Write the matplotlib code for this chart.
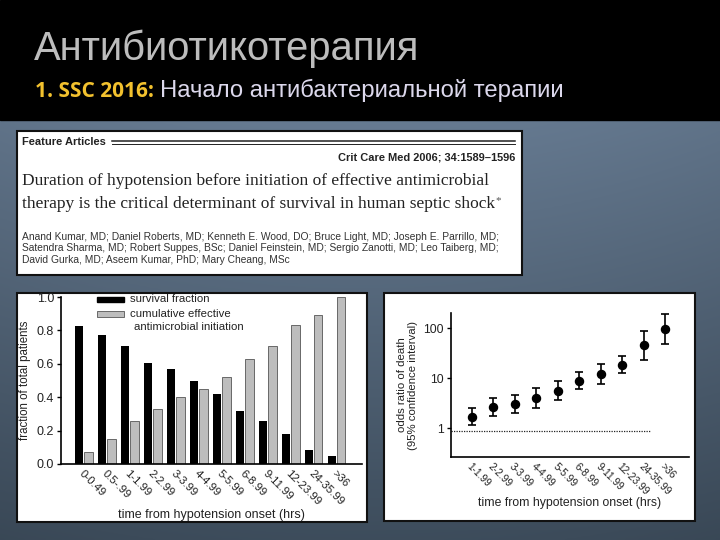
import numpy as np
import matplotlib.pyplot as plt
from matplotlib.patches import Rectangle
from matplotlib.ticker import NullLocator

W, H = 720, 540

# left chart: survival vs cumulative effective antimicrobial initiation
groups_left = ["0-0.49", "0.5-.99", "1-1.99", "2-2.99", "3-3.99", "4-4.99",
               "5-5.99", "6-8.99", "9-11.99", "12-23.99", "24-35.99", ">36"]
survival = [0.825, 0.77, 0.705, 0.605, 0.57, 0.50, 0.42, 0.315, 0.255, 0.18, 0.085, 0.045]
cumulative = [0.07, 0.15, 0.255, 0.33, 0.40, 0.45, 0.52, 0.63, 0.705, 0.835, 0.895, 1.0]

# right chart: odds ratio of death (95% CI)
groups_right = ["1-1.99", "2-2.99", "3-3.99", "4-4.99", "5-5.99",
                "6-8.99", "9-11.99", "12-23.99", "24-35.99", ">36"]
odds = [1.73, 2.69, 3.14, 4.13, 5.7, 8.8, 12.0, 18.7, 45.3, 95.5]
odds_lo = [1.16, 1.78, 2.04, 2.6, 3.65, 6.0, 7.85, 12.6, 23.1, 48.0]
odds_hi = [2.57, 4.0, 4.66, 6.5, 8.8, 13.6, 19.2, 28.3, 88.8, 193.0]
ref_odds = 0.88
ref_end = 8.35

authors = [
    "Anand Kumar, MD; Daniel Roberts, MD; Kenneth E. Wood, DO; Bruce Light, MD; Joseph E. Parrillo, MD;",
    "Satendra Sharma, MD; Robert Suppes, BSc; Daniel Feinstein, MD; Sergio Zanotti, MD; Leo Taiberg, MD;",
    "David Gurka, MD; Aseem Kumar, PhD; Mary Cheang, MSc",
]


def box(x0, y0, x1, y1):
    return [x0 / W, 1 - y1 / H, (x1 - x0) / W, (y1 - y0) / H]


plt.rcParams['font.family'] = ['Liberation Sans', 'DejaVu Sans']
ink = '#222222'

fig = plt.figure(figsize=(7.2, 5.4), dpi=100)

# background
bg = fig.add_axes([0, 0, 1, 1])
yy = np.linspace(0, 1, 200)[:, None]
xx = np.linspace(-1, 1, 300)[None, :]
top = np.array([0.40, 0.48, 0.57])
bot = np.array([0.24, 0.30, 0.36])
grad = top[None, None, :] * (1 - yy[..., None]) + bot[None, None, :] * yy[..., None]
grad = grad * (1 - 0.06 * xx[..., None] ** 2)
bg.imshow(np.clip(grad, 0, 1), extent=[0, W, H, 120], aspect='auto')
bg.add_patch(Rectangle((0, 0), W, 120, color='black'))
bg.set_xlim(0, W)
bg.set_ylim(H, 0)
bg.axis('off')

# header
bg.text(34, 60, "Антибиотикотерапия", fontsize=28.8, color='#bdbdbd', va='baseline')
bg.text(35, 97, "1. SSC 2016:", fontsize=15, color='#f2c12e',
        family=['Open Sans', 'DejaVu Sans'], weight='bold', va='baseline')
bg.text(160, 97, "Начало антибактериальной терапии", fontsize=17.2, color='#dcd8ec',
        va='baseline')

# article box
bg.add_patch(Rectangle((17, 131), 505, 144, fc='white', ec='#111111', lw=1.5))
bg.text(22, 142, "Feature Articles", fontsize=8, weight='bold', color=ink, va='center')
bg.plot([112, 515], [141.3, 141.3], color=ink, lw=1.1)
bg.plot([112, 515], [144.2, 144.2], color=ink, lw=0.7)
bg.text(515, 157, "Crit Care Med 2006; 34:1589–1596", fontsize=7.9, weight='bold',
        color=ink, ha='right', va='center')
serif = ['Liberation Serif', 'DejaVu Serif']
bg.text(22, 181, "Duration of hypotension before initiation of effective antimicrobial",
        fontsize=12.5, family=serif, color=ink, va='center')
t2 = bg.text(22, 204, "therapy is the critical determinant of survival in human septic shock",
             fontsize=12.5, family=serif, color=ink, va='center')
bg.annotate("*", xy=(1, 1), xycoords=t2, fontsize=8, family=serif, color='#555555',
            va='top', ha='left')
for i, line in enumerate(authors):
    bg.text(22, 236.5 + i * 11.7, line, fontsize=7.4, color='#333333', va='center')

# chart boxes
bg.add_patch(Rectangle((17, 293), 350, 229, fc='white', ec='#111111', lw=1.5))
bg.add_patch(Rectangle((384, 293), 311, 228, fc='white', ec='#111111', lw=1.5))

# left chart
axL = fig.add_axes(box(61, 297, 362, 464))
x = np.arange(len(groups_left))
axL.bar(x - 0.2, survival, width=0.34, color='black')
axL.bar(x + 0.2, cumulative, width=0.36, color='#bdbdbd', edgecolor='#555555', lw=0.6)
axL.set_xlim(-1.0, 12.1)
axL.set_ylim(0, 1.0)
axL.set_yticks([0, 0.2, 0.4, 0.6, 0.8, 1.0])
axL.set_yticklabels(['0.0', '0.2', '0.4', '0.6', '0.8', '1.0'], fontsize=9, color=ink)
axL.set_xticks(x)
axL.set_xticklabels(groups_left, rotation=-45, ha='left', va='top',
                    rotation_mode='anchor', fontsize=8.2, color=ink)
axL.tick_params(axis='x', length=0, pad=3)
axL.tick_params(axis='y', length=3, width=1, direction='out', pad=2)
for s in ['top', 'right']:
    axL.spines[s].set_visible(False)
for s in ['left', 'bottom']:
    axL.spines[s].set_linewidth(1.2)
axL.set_xlabel("time from hypotension onset (hrs)", fontsize=9, color=ink)
axL.xaxis.set_label_coords(0.5, -0.27)
axL.set_ylabel("fraction of total patients", fontsize=8.3, color=ink)
axL.yaxis.set_label_coords(-0.10, 0.5)


def lx(px):
    return (px - 61) / 301


def ly(py):
    return (464 - py) / 167


axL.add_patch(Rectangle((lx(97), ly(302)), lx(124) - lx(97), ly(296.5) - ly(302),
                        transform=axL.transAxes, color='black', clip_on=False))
axL.add_patch(Rectangle((lx(97), ly(316.5)), lx(124) - lx(97), ly(311) - ly(316.5),
                        transform=axL.transAxes, fc='#bdbdbd', ec='#555555', lw=0.6,
                        clip_on=False))
axL.text(lx(130), ly(299), "survival fraction", transform=axL.transAxes,
         fontsize=8.2, color=ink, va='center')
axL.text(lx(130), ly(313.7), "cumulative effective", transform=axL.transAxes,
         fontsize=8.2, color=ink, va='center')
axL.text(lx(134), ly(326.7), "antimicrobial initiation", transform=axL.transAxes,
         fontsize=8.2, color=ink, va='center')

# right chart
axR = fig.add_axes(box(451, 313, 689, 457))
xr = np.arange(len(groups_right))
odds_a = np.array(odds)
yerr = [odds_a - np.array(odds_lo), np.array(odds_hi) - odds_a]
axR.errorbar(xr, odds, yerr=yerr, fmt='o', color='black', ms=5.8,
             capsize=2.8, elinewidth=1.2, capthick=1.2)
axR.set_yscale('log')
axR.set_ylim(0.27, 200)
axR.set_xlim(-0.96, 10.1)
axR.hlines(ref_odds, -0.96, ref_end, colors=ink, linestyles=(0, (1, 1)), lw=0.9)
axR.set_yticks([1, 10, 100])
axR.set_yticklabels(['1', '10', '100'], fontsize=8.8, color=ink)
axR.yaxis.set_minor_locator(NullLocator())
axR.set_xticks(xr)
axR.set_xticklabels(groups_right, rotation=-45, ha='left', va='top',
                    rotation_mode='anchor', fontsize=7.4, color=ink)
axR.tick_params(axis='x', length=0, pad=3)
axR.tick_params(axis='y', length=3, width=1, direction='out', pad=2)
for s in ['top', 'right']:
    axR.spines[s].set_visible(False)
for s in ['left', 'bottom']:
    axR.spines[s].set_linewidth(1.2)
axR.set_xlabel("time from hypotension onset (hrs)", fontsize=8.8, color=ink)
axR.xaxis.set_label_coords(0.5, -0.28)
axR.set_ylabel("odds ratio of death\n(95% confidence interval)", fontsize=8.2,
               color=ink, linespacing=1.1)
axR.yaxis.set_label_coords(-0.14, 0.5)

fig.savefig("out.png", dpi=100)
